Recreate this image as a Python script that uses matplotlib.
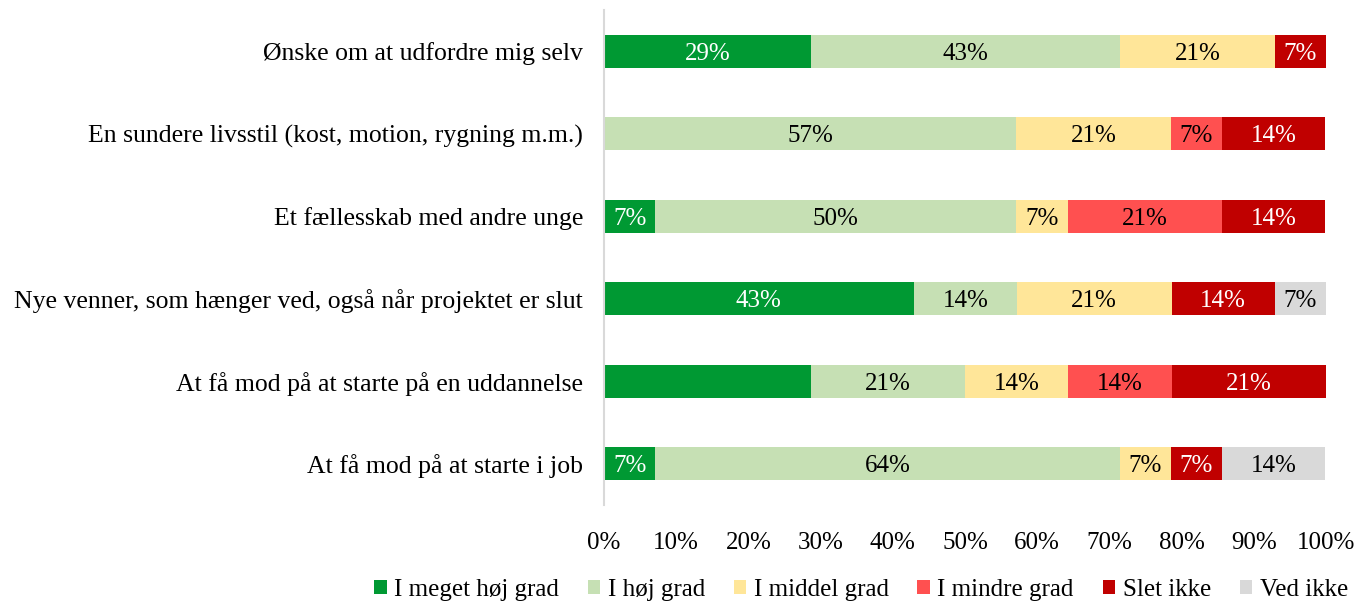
import matplotlib
matplotlib.use("Agg")
import matplotlib.pyplot as plt
import numpy as np

# Data (share of 14 respondents, in %)
categories = [
    "Ønske om at udfordre mig selv",
    "En sundere livsstil (kost, motion, rygning m.m.)",
    "Et fællesskab med andre unge",
    "Nye venner, som hænger ved, også når projektet er slut",
    "At få mod på at starte på en uddannelse",
    "At få mod på at starte i job",
]
series_names = ["I meget høj grad", "I høj grad", "I middel grad",
                "I mindre grad", "Slet ikke", "Ved ikke"]
meget_hoej = [28.6, 0, 7.1, 42.9, 28.6, 7.1]
hoej = [42.9, 57.1, 50.0, 14.3, 21.4, 64.3]
middel = [21.4, 21.4, 7.1, 21.4, 14.3, 7.1]
mindre = [0, 7.1, 21.4, 0, 14.3, 0]
slet_ikke = [7.1, 14.3, 14.3, 14.3, 21.4, 7.1]
ved_ikke = [0, 0, 0, 7.1, 0, 14.3]
# data label missing in the original for this (row, series)
hidden_labels = {(4, 0)}

colors = ["#009933", "#C6E0B4", "#FFE699", "#FF5050", "#C00000", "#D9D9D9"]
text_colors = ["white", "black", "black", "black", "white", "black"]

plt.rcParams["font.family"] = ["Liberation Serif", "DejaVu Serif"]

fig = plt.figure(figsize=(13.65, 6.03), dpi=100)
ax = fig.add_axes([0.4425, 0.163, 0.529, 0.82])

all_series = [meget_hoej, hoej, middel, mindre, slet_ikke, ved_ikke]
y = np.arange(len(categories))
left = np.zeros(len(categories))
for s, (vals, name) in enumerate(zip(all_series, series_names)):
    vals = np.array(vals)
    ax.barh(y, vals, left=left, height=0.4, color=colors[s], label=name)
    for i, v in enumerate(vals):
        if v > 0 and (i, s) not in hidden_labels:
            ax.text(left[i] + v / 2, y[i], f"{v:.0f}%", ha="center",
                    va="center_baseline", color=text_colors[s], fontsize=18)
    left += vals

ax.set_xlim(0, 100)
ax.set_ylim(len(categories) - 0.5, -0.5)
ax.set_yticks(y)
ax.set_yticklabels(categories, fontsize=18.5)
ax.set_xticks(np.arange(0, 101, 10))
ax.set_xticklabels([f"{t}%" for t in range(0, 101, 10)], fontsize=18)
ax.tick_params(axis="both", length=0)
ax.tick_params(axis="x", pad=20)
ax.tick_params(axis="y", pad=15)
for side in ["top", "right", "bottom"]:
    ax.spines[side].set_visible(False)
ax.spines["left"].set_color("#D9D9D9")
ax.spines["left"].set_linewidth(1.5)

leg = fig.legend(loc="center left", bbox_to_anchor=(0.274, 0.022), ncol=6,
                 frameon=False, fontsize=18, handlelength=0.5, handleheight=0.5,
                 handletextpad=0.3, columnspacing=1.15, borderaxespad=0,
                 borderpad=0)

fig.savefig("out.png", dpi=100)
